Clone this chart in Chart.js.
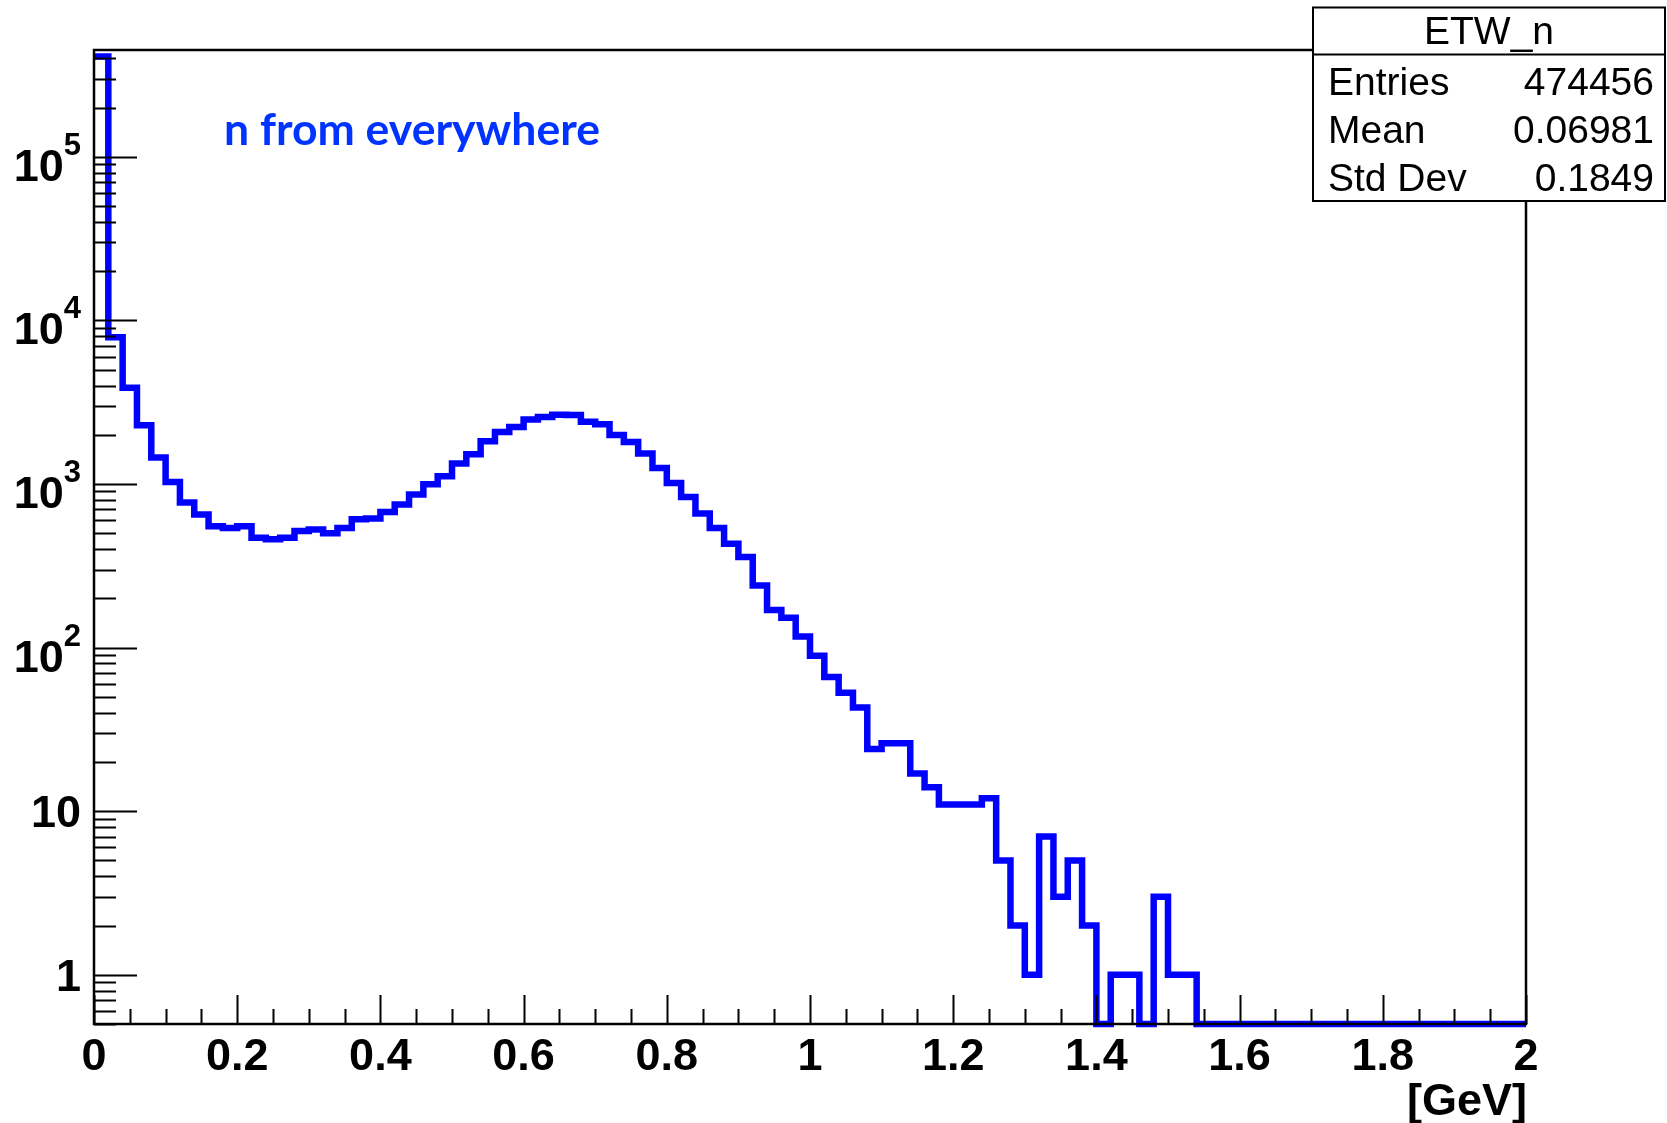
<!DOCTYPE html>
<html>
<head>
<meta charset="utf-8">
<title>ETW_n</title>
<script src="https://cdn.jsdelivr.net/npm/chart.js@4/dist/chart.umd.min.js"></script>
<style>
  html, body { margin: 0; padding: 0; background: #fff; }
  #hist { display: block; }
</style>
</head>
<body>
<canvas id="hist" width="1667" height="1123"></canvas>
<script>
// histogram binning: 100 bins of 0.02 GeV between 0 and 2
const xMin = 0, xMax = 2, binWidth = 0.02;
const yMin = 0.5, yMax = 4.5e5;

// bin contents, low edge first
const counts = [
  410000, 7900, 3880, 2290, 1450, 1030, 770, 650, 552, 539,
  552, 469, 460, 469, 517, 527, 500, 539, 609, 615,
  675, 750, 863, 997, 1116, 1335, 1522, 1828, 2083, 2235,
  2479, 2572, 2648, 2640, 2399, 2322, 1996, 1808, 1537, 1254,
  1016, 834, 660, 538, 432, 358, 240, 170, 152, 117,
  89, 66, 53, 43, 24, 26, 26, 17, 14, 11,
  11, 11, 12, 5, 2, 1, 7, 3, 5, 2,
  0, 1, 1, 0, 3, 1, 1, 0, 0, 0,
  0, 0, 0, 0, 0, 0, 0, 0, 0, 0,
  0, 0, 0, 0, 0, 0, 0, 0, 0, 0
];

const xTickValues = [0, 0.2, 0.4, 0.6, 0.8, 1, 1.2, 1.4, 1.6, 1.8, 2];
const xTickLabels = ['0', '0.2', '0.4', '0.6', '0.8', '1', '1.2', '1.4', '1.6', '1.8', '2'];
const yTickValues = [1, 10, 100, 1000, 10000, 100000];
const yTickBase = ['1', '10', '10', '10', '10', '10'];
const yTickExp = ['', '', '2', '3', '4', '5'];
const xTitle = '[GeV]';
const note = 'n from everywhere';

const statsTitle = 'ETW_n';
const statsNames = ['Entries', 'Mean', 'Std Dev'];
const statsValues = ['474456', '0.06981', '0.1849'];

// step outline: one point per low edge, plus the upper edge of the last bin.
// empty bins sit on the frame floor like ROOT does on a log axis
const points = counts.map((c, i) => ({ x: xMin + i * binWidth, y: c > 0 ? c : yMin }));
points.push({ x: xMax, y: points[points.length - 1].y });

const BOLD = 'bold 45px "Liberation Sans", Arial, sans-serif';
const SUP = 'bold 31px "Liberation Sans", Arial, sans-serif';
const STAT = '39px "Liberation Sans", Arial, sans-serif';

const rootFrame = {
  id: 'rootFrame',
  afterDraw(chart) {
    const { ctx, chartArea: a, scales: { x, y } } = chart;
    ctx.save();
    ctx.strokeStyle = '#000';
    ctx.fillStyle = '#000';

    // frame
    ctx.lineWidth = 2.5;
    ctx.strokeRect(a.left, a.top, a.right - a.left, a.bottom - a.top);

    // ticks, drawn inward
    ctx.lineWidth = 2;
    ctx.beginPath();
    for (let v = xMin; v <= xMax + 1e-9; v += 0.05) {
      const px = Math.round(x.getPixelForValue(v)) + 0.5;
      const major = Math.abs(v / 0.2 - Math.round(v / 0.2)) < 1e-6;
      ctx.moveTo(px, a.bottom);
      ctx.lineTo(px, a.bottom - (major ? 29 : 15));
    }
    for (let d = 0.1; d <= 1e5; d *= 10) {
      for (let k = 1; k <= 9; k++) {
        const v = k * d;
        if (v < yMin - 1e-9 || v > yMax) continue;
        const py = Math.round(y.getPixelForValue(v)) + 0.5;
        ctx.moveTo(a.left, py);
        ctx.lineTo(a.left + (k === 1 ? 43 : 22), py);
      }
    }
    ctx.stroke();

    // x labels
    ctx.font = BOLD;
    ctx.textAlign = 'center';
    ctx.textBaseline = 'alphabetic';
    xTickValues.forEach((v, i) => {
      ctx.fillText(xTickLabels[i], x.getPixelForValue(v), a.bottom + 46);
    });
    ctx.textAlign = 'right';
    ctx.fillText(xTitle, a.right + 1, a.bottom + 91);

    // y labels, 10^n with a raised exponent
    const labelRight = 81;
    yTickValues.forEach((v, i) => {
      const py = y.getPixelForValue(v);
      const base = yTickBase[i], exp = yTickExp[i];
      ctx.textAlign = 'left';
      if (exp) {
        ctx.font = SUP;
        const we = ctx.measureText(exp).width;
        ctx.font = BOLD;
        const wb = ctx.measureText(base).width;
        const x0 = labelRight - we - wb;
        ctx.fillText(base, x0, py + 24);
        ctx.font = SUP;
        ctx.fillText(exp, x0 + wb, py - 2);
      } else {
        ctx.font = BOLD;
        const wb = ctx.measureText(base).width;
        ctx.fillText(base, labelRight - wb, py + 16);
      }
    });

    // caption inside the pad
    let size = 44;
    ctx.font = `bold ${size}px Lato, "Open Sans", sans-serif`;
    size = size * 376 / ctx.measureText(note).width;
    ctx.font = `bold ${size}px Lato, "Open Sans", sans-serif`;
    ctx.fillStyle = '#0033ff';
    ctx.textAlign = 'left';
    ctx.fillText(note, 224, 145);

    // statistics box
    const bx = 1313, by = 7.5, bw = 1665 - 1313, bh = 201 - 7.5, sep = 54.5;
    ctx.fillStyle = '#fff';
    ctx.fillRect(bx, by, bw, bh);
    ctx.strokeStyle = '#000';
    ctx.lineWidth = 2;
    ctx.strokeRect(bx, by, bw, bh);
    ctx.beginPath();
    ctx.moveTo(bx, sep);
    ctx.lineTo(bx + bw, sep);
    ctx.stroke();
    ctx.fillStyle = '#000';
    ctx.font = STAT;
    ctx.textAlign = 'center';
    ctx.fillText(statsTitle, bx + bw / 2, 44);
    const rowBase = [95, 143, 191];
    statsNames.forEach((n, i) => {
      ctx.textAlign = 'left';
      ctx.fillText(n, 1328, rowBase[i]);
      ctx.textAlign = 'right';
      ctx.fillText(statsValues[i], 1654, rowBase[i]);
    });
    ctx.restore();
  }
};

new Chart(document.getElementById('hist'), {
  type: 'line',
  data: {
    datasets: [{
      data: points,
      stepped: true,
      borderColor: '#0000ff',
      borderWidth: 6.5,
      borderJoinStyle: 'miter',
      borderCapStyle: 'butt',
      pointRadius: 0,
      fill: false,
      clip: false
    }]
  },
  options: {
    responsive: false,
    animation: false,
    events: [],
    layout: { padding: { left: 94, right: 141, top: 50, bottom: 99 } },
    plugins: { legend: { display: false }, tooltip: { enabled: false } },
    scales: {
      x: { type: 'linear', min: xMin, max: xMax, display: false },
      y: { type: 'logarithmic', min: yMin, max: yMax, display: false }
    }
  },
  plugins: [rootFrame]
});
</script>
</body>
</html>
